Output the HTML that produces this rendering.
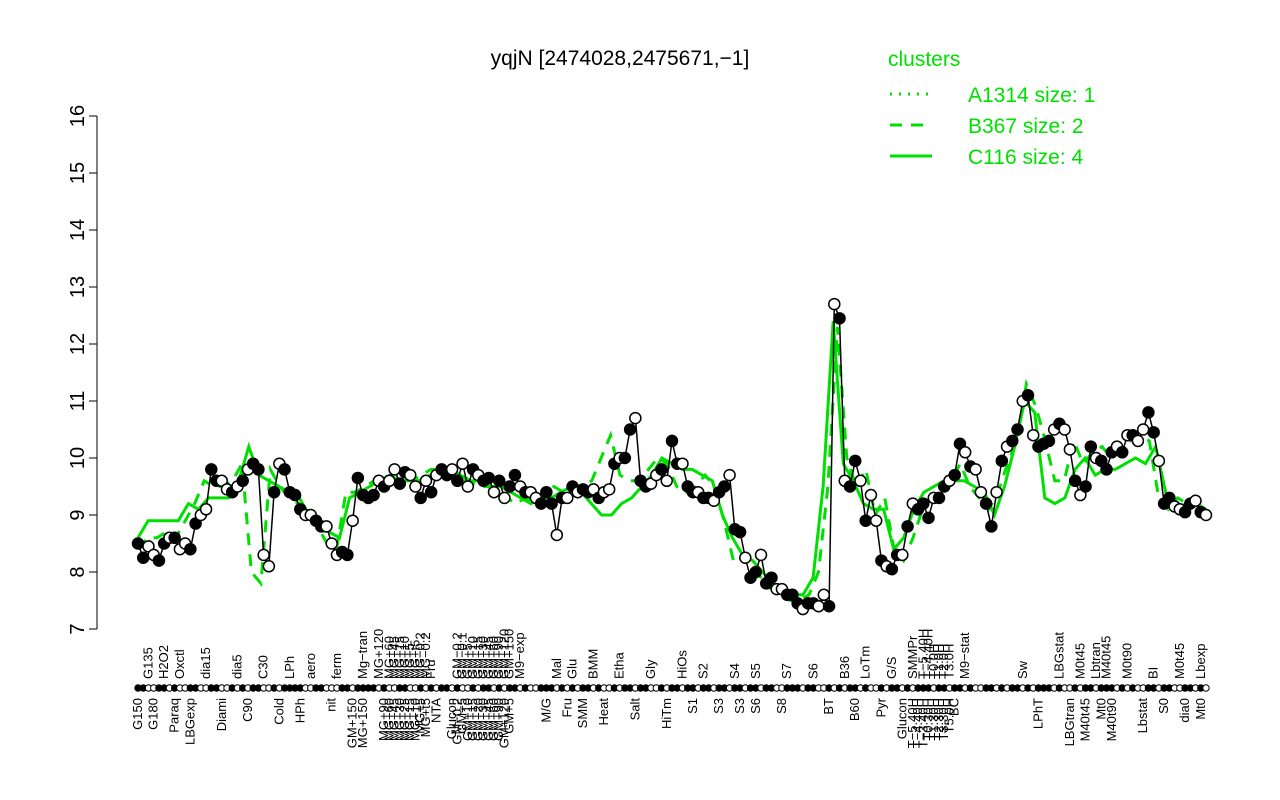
<!DOCTYPE html>
<html><head><meta charset="utf-8"><style>
body{margin:0;background:#fff;}
svg{display:block;font-family:"Liberation Sans",sans-serif;}
</style></head><body>
<svg id="chart" width="1280" height="800" viewBox="0 0 1280 800">
<text x="620" y="65" font-size="21" text-anchor="middle">yqjN [2474028,2475671,−1]</text>
<g>
<text x="888" y="66" font-size="21" fill="#00e000">clusters</text>
<line x1="890" y1="94" x2="932" y2="94" stroke="#00e000" stroke-width="3" stroke-dasharray="2,7"/>
<text x="968" y="102" font-size="21" fill="#00e000">A1314 size: 1</text>
<line x1="890" y1="125" x2="932" y2="125" stroke="#00e000" stroke-width="3" stroke-dasharray="12,9"/>
<text x="968" y="133" font-size="21" fill="#00e000">B367 size: 2</text>
<line x1="890" y1="156" x2="932" y2="156" stroke="#00e000" stroke-width="3"/>
<text x="968" y="164" font-size="21" fill="#00e000">C116 size: 4</text>
</g>
<g id="yaxis"></g>
<g id="plot"></g>
<g id="xaxis"></g>
</svg>
<script>
const values=[8.5,8.25,8.45,8.3,8.2,8.5,8.6,8.6,8.4,8.5,8.4,8.85,9.0,9.1,9.8,9.6,9.6,9.45,9.4,9.5,9.6,9.8,
9.9,9.8,8.3,8.1,9.4,9.9,9.8,9.4,9.35,9.1,9.0,9.0,8.9,8.8,8.8,8.5,8.3,8.35,8.3,8.9,
9.65,9.35,9.3,9.35,9.6,9.5,9.6,9.8,9.55,9.75,9.7,9.5,9.3,9.6,9.4,9.7,9.8,9.7,9.8,9.6,9.9,9.5,9.8,9.7,9.6,9.65,9.4,9.6,9.3,9.5,9.7,9.5,9.4,9.4,9.3,9.2,9.4,9.2,
8.65,9.3,9.3,9.5,9.4,9.45,9.4,9.45,9.3,9.4,9.45,9.9,10.0,10.0,10.5,10.7,9.6,9.5,9.55,9.7,9.8,9.6,10.3,9.9,9.9,9.5,9.4,9.4,9.3,9.3,9.25,9.4,9.5,9.7,
8.75,8.7,8.25,7.9,8.0,8.3,7.8,7.9,7.7,7.7,7.6,7.6,7.45,7.35,7.45,7.45,7.4,
7.6,7.4,12.7,12.45,9.6,9.5,9.95,9.6,
8.9,9.35,8.9,8.2,8.1,8.05,8.3,8.3,8.8,9.2,9.1,9.2,8.95,9.3,9.3,9.5,9.6,9.7,10.25,10.1,9.85,9.8,9.4,9.2,8.8,9.4,9.95,10.2,10.3,10.5,11.0,11.1,
10.4,10.2,10.25,10.3,10.5,10.6,10.5,10.15,9.6,9.35,9.5,10.2,10.0,9.95,9.8,10.1,10.2,10.1,10.4,10.4,10.3,10.5,10.8,10.45,9.95,
9.2,9.3,9.15,9.1,9.05,9.2,9.25,9.05,9.0];
const filledPattern="1100110100110011001010110010111100110001101111010011001010110100101101011010011101010110100101101100101101101101101101101100111011001010110100101101011101101101001101011010111010010110111010100110";
const clusterC116=[8.6,8.9,8.9,8.9,8.9,9.2,9.1,9.3,9.3,9.3,9.6,10.2,9.7,9.6,9.5,9.4,9.3,9.0,8.8,8.7,8.6,9.3,9.4,9.5,9.6,9.7,9.6,9.6,9.6,9.7,9.8,9.8,9.7,9.6,9.6,9.5,9.5,9.4,9.3,9.2,9.3,9.3,9.4,9.5,9.4,9.2,9.0,9.0,9.2,9.3,9.5,9.7,10.0,9.9,9.8,9.8,9.7,9.6,9.0,8.6,8.3,8.2,8.0,7.8,7.7,7.6,7.6,7.9,9.5,12.4,9.9,9.6,9.2,9.1,9.1,8.4,8.6,9.1,9.4,9.5,9.6,9.6,9.6,9.5,9.4,9.0,9.5,10.2,11.0,10.8,9.3,9.2,9.3,9.8,10.0,9.7,9.8,9.8,9.9,10.0,9.9,10.2,9.4,9.1,9.2,9.2,9.1];
const clusterB367=[8.4,8.6,8.6,8.7,8.6,8.9,9.2,9.6,9.5,9.5,9.6,9.9,8.0,7.8,9.8,9.5,9.3,9.2,9.0,8.8,8.5,8.4,9.4,9.4,9.5,9.6,9.7,9.6,9.6,9.6,9.7,9.8,9.8,9.7,9.6,9.6,9.5,9.5,9.4,9.3,9.2,9.3,9.2,9.4,9.5,9.4,9.4,9.5,9.6,10.0,10.4,9.7,9.6,9.6,9.8,10.0,9.9,9.5,9.4,9.5,9.7,9.5,8.9,8.2,8.3,8.0,7.9,7.7,7.6,7.5,7.5,7.6,8.0,9.5,12.3,10.0,9.5,9.8,9.0,9.3,8.4,8.2,8.6,9.1,9.3,9.5,9.6,9.9,9.5,9.3,9.1,9.4,9.9,10.3,11.3,10.9,10.3,9.6,9.6,10.3,9.9,10.1,10.2,10.0,10.2,10.3,10.4,10.3,9.3,9.1,9.3,9.2,9.2,9.1];
const yTicks=[7,8,9,10,11,12,13,14,15,16];
const bottomLabels=[["G150",0],["G180",3],["Paraq",7],["LBGexp",10],["Diami",16],["C90",21],["Cold",27],["HPh",31],["nit",37],["GM+150",41],["MG+150",43],["M/G",78],["Fru",82],["SMM",85],["Heat",89],["Salt",95],["HiTm",101],["S1",106],["S3",111],["S3",115],["S6",118],["S8",123],["BT",132],["B60",137],["Pyr",142],["Glucon",146],["BC",156],["LPhT",172],["LBGtran",178],["M40t45",181],["Mt0",184],["M40t90",186],["Lbstat",192],["S0",196],["dia0",200],["Mt0",203]];
const topLabels=[["G135",2],["H2O2",5],["Oxctl",8],["dia15",13],["dia5",19],["C30",24],["LPh",29],["aero",33],["ferm",38],["Mg−tran",43],["MG+120",46],["Mal",80],["Glu",83],["BMM",87],["Etha",92],["Gly",98],["HiOs",104],["S2",108],["S4",114],["S5",118],["S7",124],["S6",129],["B36",135],["LoTm",139],["G/S",144],["SMMPr",148],["M9−stat",158],["Sw",169],["LBGstat",176],["M0t45",180],["Lbtran",183],["M40t45",185],["M0t90",189],["BI",194],["M0t45",199],["Lbexp",203]];
const denseTopLabels=[["MG+60",48],["MG+45",49],["MG+15",50],["MG+10",51],["MG+5",52],["MG+t5",53],["MG−0.2",54],["MG−0.2",55],["Fru",56],["GM−0.2",61],["GM−0.1",62],["GM+5",63],["GM+10",64],["GM+15",65],["GM+30",66],["GM+45",67],["GM+60",68],["GM+90",69],["GM+120",70],["GM+150",71],["M9−exp",73],["T−5.40H",150],["T−4.40H",151],["T0.0H",152],["T1.0H",153],["T2.0H",154],["T3.0H",155]];
const denseBottomLabels=[["MG+90",47],["MG+60",48],["MG+45",49],["MG+30",50],["MG+25",51],["MG+15",52],["MG+10",53],["MG+5",54],["MG+t5",55],["NTA",57],["Glucon",60],["GM−0.2",61],["GM+5",62],["GM+10",63],["GM+15",64],["GM+20",65],["GM+30",66],["GM+45",67],["GM+60",68],["GM+90",69],["GM+120",70],["GM+5",71],["T−5.40H",148],["T−4.40H",149],["T−3.40H",150],["T0.30H",151],["T1.30H",152],["T2.30H",153],["T3.30H",154],["T5.0H",155]];

const NS="http://www.w3.org/2000/svg";
const X0=138,X1=1206,Y7=629,PU=57;
const N=values.length;
function xs(i){return X0+i*(X1-X0)/(N-1);}
function ys(v){return Y7-(v-7)*PU;}
function mk(tag,attrs,parent){const e=document.createElementNS(NS,tag);for(const k in attrs)e.setAttribute(k,attrs[k]);parent.appendChild(e);return e;}
const ya=document.getElementById('yaxis'),pl=document.getElementById('plot'),xa=document.getElementById('xaxis');
let axl=mk('line',{x1:97,x2:97,y1:ys(7),y2:ys(16),stroke:'#000','stroke-width':1},ya);


yTicks.forEach(t=>{
 const l=mk('line',{x1:89,x2:97,y1:ys(t),y2:ys(t),stroke:'#000'},ya);
 
 
 const tx=mk('text',{x:0,y:0,'font-size':20,'text-anchor':'middle',transform:`translate(84,${ys(t)}) rotate(-90)`},ya);
 tx.textContent=t;
 
 
});
function path(arr,xf){return arr.map((v,i)=>(i?'L':'M')+xf(i).toFixed(1)+','+ys(v).toFixed(1)).join('');}
const pc=mk('path',{d:path(clusterC116,i=>X0+i*(X1-X0)/(clusterC116.length-1)),fill:'none',stroke:'#00e000','stroke-width':3},pl);


const pb=mk('path',{d:path(clusterB367,i=>X0+i*(X1-X0)/(clusterB367.length-1)),fill:'none',stroke:'#00e000','stroke-width':3,'stroke-dasharray':'12,9'},pl);


const pk=mk('path',{d:path(values,xs),fill:'none',stroke:'#000','stroke-width':1.5},pl);


values.forEach((v,i)=>{
 const f=filledPattern[i%filledPattern.length]==='1';
 const c=mk('circle',{cx:xs(i),cy:ys(v),r:5.5,fill:f?'#000':'#fff',stroke:'#000','stroke-width':1.5},pl);
 
 
 const d=mk('circle',{cx:xs(i),cy:688,r:3.2,fill:f?'#000':'#fff',stroke:'#000','stroke-width':1},xa);
 
 
});
topLabels.concat(denseTopLabels).forEach(([n,i])=>{
 const t=mk('text',{x:0,y:0,'font-size':13,'text-anchor':'start',transform:`translate(${xs(i)+4},679) rotate(-90)`},xa);
 t.textContent=n;
 
 
});
bottomLabels.concat(denseBottomLabels).forEach(([n,i])=>{
 const t=mk('text',{x:0,y:0,'font-size':13,'text-anchor':'end',transform:`translate(${xs(i)+4},698) rotate(-90)`},xa);
 t.textContent=n;
 
 
});
</script>
</body></html>
